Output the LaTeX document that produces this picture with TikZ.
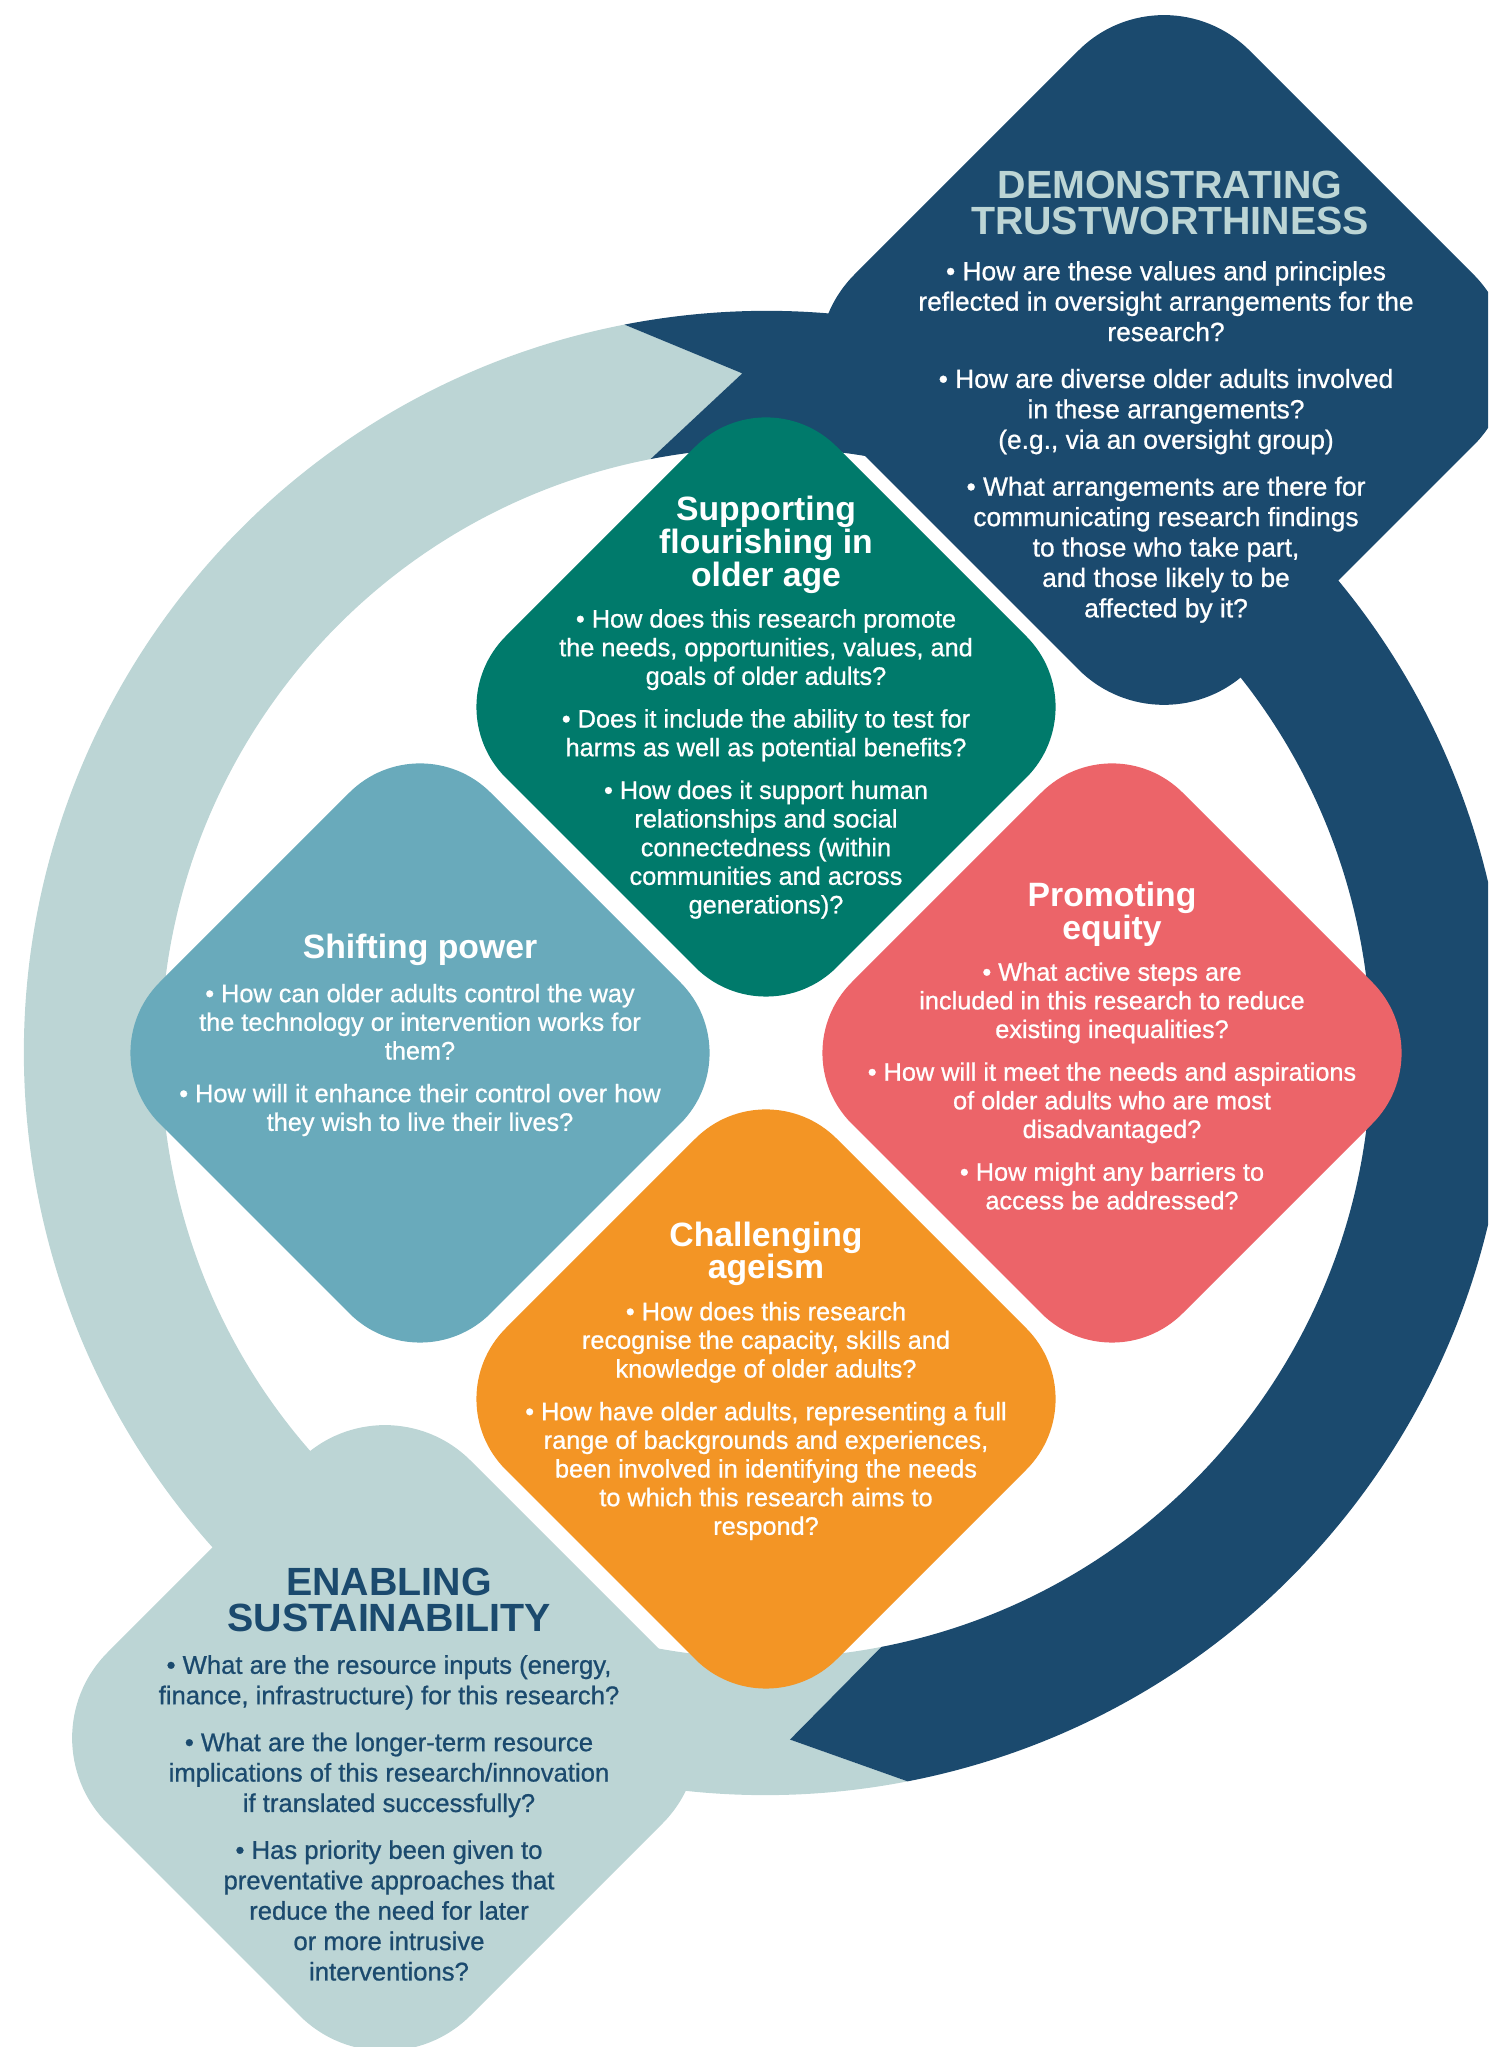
\documentclass[tikz,border=0pt]{standalone}
\usepackage{fontspec}
\setmainfont{Liberation Sans}
\newfontfamily\mediumfont[FakeBold=0.8]{Liberation Sans}
\usepackage{tikz}
\usetikzlibrary{calc}

\definecolor{navyband}{HTML}{1B4A6E}
\definecolor{lightband}{HTML}{BCD5D5}
\definecolor{flourish}{HTML}{007A6B}
\definecolor{power}{HTML}{69AABB}
\definecolor{equity}{HTML}{EC6469}
\definecolor{ageism}{HTML}{F39525}

\begin{document}
\begin{tikzpicture}[
    bigtitle/.style={align=center, font=\bfseries\fontsize{11.2}{10.5}\selectfont},
    smalltitle/.style={align=center, text=white, font=\bfseries\fontsize{9.6}{9.3}\selectfont},
    bigbody/.style={align=center, font=\mediumfont\fontsize{7.5}{8.65}\selectfont},
    smallbody/.style={align=center, text=white, font=\mediumfont\fontsize{7.2}{8.15}\selectfont}]
    \useasboundingbox (0,0) rectangle (14.88,20.47);
    \clip (0,0) rectangle (14.88,20.47);

    % the two arrows of the cycle
    \coordinate (O) at (7.66,9.94);
    \fill[lightband, shift={(O)}] (-79:7.42) arc[start angle=-79, end angle=-259, radius=7.42]
        -- (92:6.8) -- (101:6.05) arc[start angle=101, end angle=281, radius=6.05] -- (-88:6.87) -- cycle;
    \fill[navyband, shift={(O)}] (101:7.42) arc[start angle=101, end angle=-79, radius=7.42]
        -- (-88:6.87) -- (-79:6.05) arc[start angle=-79, end angle=101, radius=6.05] -- (92:6.8) -- cycle;

    % outer diamonds
    \fill[navyband, rounded corners=1.21cm, shift={(11.64,16.87)}]
        (-1.975,1.975) -- (0,3.95) -- (3.95,0) -- (0,-3.95) -- (-3.95,0) -- cycle;
    \fill[lightband, rounded corners=1.21cm, shift={(3.85,3.09)}]
        (-1.815,1.815) -- (0,3.63) -- (3.63,0) -- (0,-3.63) -- (-3.63,0) -- cycle;

    % inner diamonds
    \fill[flourish, rounded corners=1cm, shift={(7.66,13.40)}]
        (-1.655,1.655) -- (0,3.31) -- (3.31,0) -- (0,-3.31) -- (-3.31,0) -- cycle;
    \fill[power, rounded corners=1cm, shift={(4.20,9.94)}]
        (-1.655,1.655) -- (0,3.31) -- (3.31,0) -- (0,-3.31) -- (-3.31,0) -- cycle;
    \fill[equity, rounded corners=1cm, shift={(11.12,9.94)}]
        (-1.655,1.655) -- (0,3.31) -- (3.31,0) -- (0,-3.31) -- (-3.31,0) -- cycle;
    \fill[ageism, rounded corners=1cm, shift={(7.66,6.48)}]
        (-1.655,1.655) -- (0,3.31) -- (3.31,0) -- (0,-3.31) -- (-3.31,0) -- cycle;

    % texts
    \node[bigtitle, text=lightband] (trusttitle) at (11.70,18.44) {DEMONSTRATING\\TRUSTWORTHINESS};
    \node[bigbody, text=white] (trustbody) at (11.66,16.05) {%
        • How are these values and principles\\
        reflected in oversight arrangements for the\\
        research?\\[4.7pt]
        • How are diverse older adults involved\\
        in these arrangements?\\
        (e.g., via an oversight group)\\[4.7pt]
        • What arrangements are there for\\
        communicating research findings\\
        to those who take part,\\
        and those likely to be\\
        affected by it?};

    \node[smalltitle] (flourishtitle) at (7.66,15.02) {Supporting\\flourishing in\\older age};
    \node[smallbody] (flourishbody) at (7.66,12.83) {%
        • How does this research promote\\
        the needs, opportunities, values, and\\
        goals of older adults?\\[4pt]
        • Does it include the ability to test for\\
        harms as well as potential benefits?\\[4pt]
        • How does it support human\\
        relationships and social\\
        connectedness (within\\
        communities and across\\
        generations)?};

    \node[smalltitle] (powertitle) at (4.20,10.97) {Shifting power};
    \node[smallbody] (powerbody) at (4.20,9.87) {%
        • How can older adults control the way\\
        the technology or intervention works for\\
        them?\\[4pt]
        • How will it enhance their control over how\\
        they wish to live their lives?};

    \node[smalltitle] (equitytitle) at (11.12,11.33) {Promoting\\equity};
    \node[smallbody] (equitybody) at (11.12,9.61) {%
        • What active steps are\\
        included in this research to reduce\\
        existing inequalities?\\[4pt]
        • How will it meet the needs and aspirations\\
        of older adults who are most\\
        disadvantaged?\\[4pt]
        • How might any barriers to\\
        access be addressed?};

    \node[smalltitle] (ageismtitle) at (7.66,7.93) {Challenging\\ageism};
    \node[smallbody] (ageismbody) at (7.66,6.26) {%
        • How does this research\\
        recognise the capacity, skills and\\
        knowledge of older adults?\\[4pt]
        • How have older adults, representing a full\\
        range of backgrounds and experiences,\\
        been involved in identifying the needs\\
        to which this research aims to\\
        respond?};

    \node[bigtitle, text=navyband] (sustaintitle) at (3.89,4.47) {ENABLING\\SUSTAINABILITY};
    \node[bigbody, text=navyband, font=\mediumfont\fontsize{7.3}{8.65}\selectfont] (sustainbody) at (3.89,2.29) {%
        • What are the resource inputs (energy,\\
        finance, infrastructure) for this research?\\[4.7pt]
        • What are the longer-term resource\\
        implications of this research/innovation\\
        if translated successfully?\\[4.7pt]
        • Has priority been given to\\
        preventative approaches that\\
        reduce the need for later\\
        or more intrusive\\
        interventions?};
\end{tikzpicture}
\end{document}
